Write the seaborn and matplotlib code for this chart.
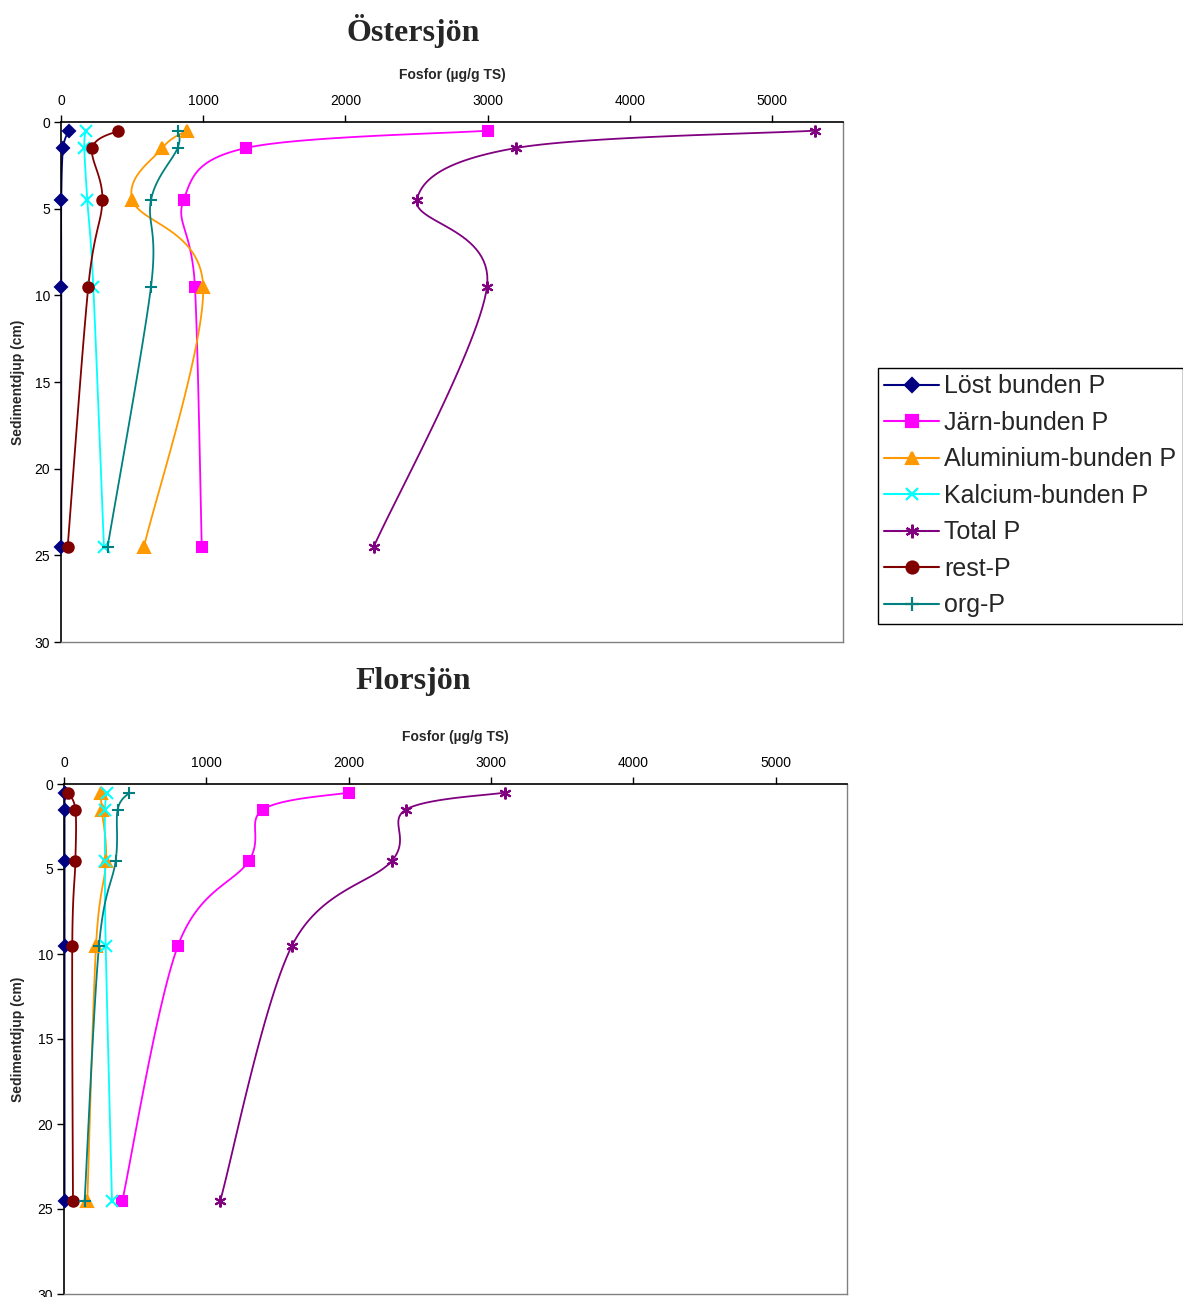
import numpy as np
import pandas as pd
import matplotlib
matplotlib.use("Agg")
import matplotlib.pyplot as plt
import seaborn as sns
from matplotlib.lines import Line2D

# ---------------- data ----------------
depth = [0.5, 1.5, 4.5, 9.5, 24.5]
series_names = ["Löst bunden P", "Järn-bunden P", "Aluminium-bunden P",
                "Kalcium-bunden P", "Total P", "rest-P", "org-P"]

# Östersjön
ost_lost = [57, 15, 2, 2, 2]
ost_jarn = [3000, 1300, 862, 942, 990]
ost_alu = [884, 713, 502, 1000, 584]
ost_kalc = [173, 164, 185, 227, 302]
ost_total = [5300, 3200, 2503, 2996, 2200]
ost_rest = [401, 220, 291, 192, 47]
ost_org = [820, 820, 633, 633, 328]

# Florsjön
flo_lost = [5, 4, 4, 4, 4]
flo_jarn = [2000, 1398, 1300, 801, 410]
flo_alu = [258, 265, 295, 225, 164]
flo_kalc = [302, 288, 288, 293, 337]
flo_total = [3099, 2403, 2305, 1602, 1098]
flo_rest = [28, 80, 80, 58, 63]
flo_org = [459, 377, 363, 246, 145]

x_ticks = [0, 1000, 2000, 3000, 4000, 5000]
y_ticks = [0, 5, 10, 15, 20, 25, 30]

colors = ["#000080", "#FF00FF", "#FF9900", "#00FFFF", "#800080", "#800000", "#008080"]
markers = ["D", "s", "^", "x", (6, 2, 0), "o", "+"]
msizes = [6.0, 7.0, 8.0, 8.0, 8.5, 7.5, 9.0]

ost = [ost_lost, ost_jarn, ost_alu, ost_kalc, ost_total, ost_rest, ost_org]
flo = [flo_lost, flo_jarn, flo_alu, flo_kalc, flo_total, flo_rest, flo_org]

# ---------------- style ----------------
sns.set_style("white")
plt.rcParams["font.family"] = ["Liberation Sans", "DejaVu Sans"]

W, H = 1183, 1297
fig = plt.figure(figsize=(W / 100, H / 100), dpi=100)


def smooth(xs, ys, ax_w, ax_h, xmax=5500, ymax=30, n=30):
    """Excel-style smoothed (Bezier, Catmull-Rom) curve through points, in pixel space."""
    P = np.column_stack([np.array(xs) / xmax * ax_w, np.array(ys) / ymax * ax_h])
    out = []
    m = len(P)
    for i in range(m - 1):
        p0 = P[i - 1] if i > 0 else P[i]
        p1 = P[i]
        p2 = P[i + 1]
        p3 = P[i + 2] if i + 2 < m else P[i + 1]
        c1 = p1 + (p2 - p0) / 6.0
        c2 = p2 - (p3 - p1) / 6.0
        t = np.linspace(0, 1, n)[:, None]
        seg = ((1 - t) ** 3) * p1 + 3 * ((1 - t) ** 2) * t * c1 + 3 * (1 - t) * t ** 2 * c2 + t ** 3 * p2
        out.append(seg if i == 0 else seg[1:])
    C = np.vstack(out)
    return C[:, 0] / ax_w * xmax, C[:, 1] / ax_h * ymax


def draw_panel(rect_px, data, title, title_y, label_y):
    l, t, r, b = rect_px
    ax = fig.add_axes([l / W, 1 - b / H, (r - l) / W, (b - t) / H])
    ax_w, ax_h = r - l, b - t
    for vals, c, mk, ms, name in zip(data, colors, markers, msizes, series_names):
        cx, cy = smooth(vals, depth, ax_w, ax_h)
        df = pd.DataFrame({"x": cx, "y": cy})
        sns.lineplot(data=df, x="x", y="y", sort=False, estimator=None,
                     color=c, lw=1.3, ax=ax, legend=False)
        ax.plot(vals, depth, linestyle="none", marker=mk, ms=ms, color=c,
                mfc=c, mec=c, mew=1.5, clip_on=False, zorder=5)
    ax.set_xlim(0, 5500)
    ax.set_ylim(30, 0)
    ax.set_xticks(x_ticks)
    ax.set_yticks(y_ticks)
    ax.xaxis.tick_top()
    ax.xaxis.set_label_position("top")
    ax.tick_params(axis="both", direction="out", length=5, width=1, colors="black",
                   labelsize=10, pad=3)
    ax.tick_params(axis="x", top=True, bottom=False, pad=5)
    ax.tick_params(axis="y", left=True, right=False)
    ax.set_xlabel("")
    ax.set_ylabel("")
    for s in ["top", "left"]:
        ax.spines[s].set_color("black")
        ax.spines[s].set_linewidth(1.2)
    for s in ["right", "bottom"]:
        ax.spines[s].set_color("#808080")
        ax.spines[s].set_linewidth(1.0)
    fig.text(413 / W, 1 - title_y / H, title, ha="center", va="center",
             fontsize=23, fontweight="bold", family=["Liberation Serif", "DejaVu Serif"])
    fig.text((l + r) / 2 / W, 1 - label_y / H, "Fosfor (µg/g TS)", ha="center", va="center",
             fontsize=10, fontweight="bold")
    fig.text(18 / W, 1 - (t + b) / 2 / H, "Sedimentdjup (cm)", ha="center", va="center",
             rotation=90, fontsize=10, fontweight="bold")
    return ax


ax1 = draw_panel((61, 122, 843, 642), ost, "Östersjön", 31, 75)
ax2 = draw_panel((64, 784, 847, 1294), flo, "Florsjön", 682, 737)

handles = [Line2D([0], [0], color=c, lw=1.5, marker=mk, ms=ms * 1.15, mfc=c, mec=c, mew=1.6)
           for c, mk, ms in zip(colors, markers, msizes)]
leg = fig.legend(handles, series_names, loc="upper left",
                 bbox_to_anchor=(878 / W, 1 - 368 / H), fontsize=18,
                 frameon=True, fancybox=False, framealpha=1, edgecolor="black",
                 handlelength=2.2, handletextpad=0.2, labelspacing=0.5,
                 borderpad=0.25, borderaxespad=0)
leg.get_frame().set_linewidth(1.0)

fig.savefig("out.png", dpi=100)
